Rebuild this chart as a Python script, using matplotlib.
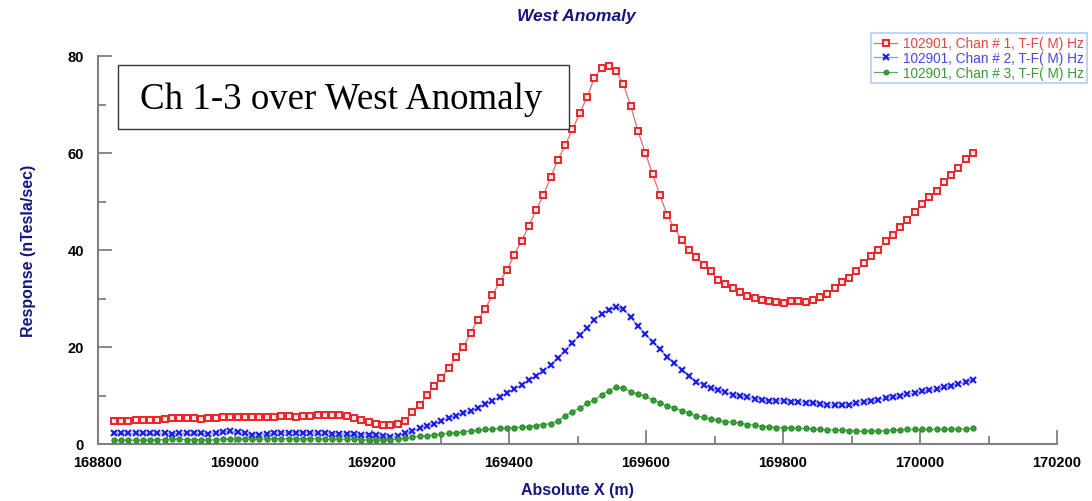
"""
West Anomaly - Ch 1-3 response profiles
"""

import numpy as np
import matplotlib
matplotlib.use("Agg")
import matplotlib.pyplot as plt
from matplotlib.patches import Rectangle
from matplotlib.ticker import MultipleLocator

plt.rcParams["font.family"] = ["Liberation Sans", "DejaVu Sans"]

# station spacing along the line
X0 = 168823.0
DX = 10.63

CH1 = [4.7, 4.7, 4.8, 4.9, 5.0, 5.0, 4.9, 5.1, 5.4, 5.4,
       5.3, 5.3, 5.1, 5.3, 5.4, 5.5, 5.5, 5.5, 5.6, 5.6,
       5.6, 5.6, 5.6, 5.7, 5.7, 5.6, 5.8, 5.8, 5.9, 5.9,
       6.0, 5.9, 5.7, 5.3, 5.0, 4.5, 4.1,
       3.9, 3.9, 4.1, 4.7, 6.6, 8.0, 10.1, 11.9, 13.7, 15.6,
       17.9, 20.0, 22.9, 25.6, 27.8, 30.7, 33.4, 35.9, 39.0, 41.9,
       44.9, 48.2, 51.3, 55.0, 58.6, 61.6, 64.9, 68.2, 71.5, 75.5,
       77.5, 78.0, 76.9, 74.2, 69.7, 64.5, 60.0, 55.7, 51.3, 47.2,
       44.5, 42.1, 40.0, 38.6, 36.9, 35.7, 33.8, 33.0, 32.2, 31.3,
       30.5, 30.1, 29.7, 29.5, 29.3, 29.1, 29.5, 29.5, 29.3, 29.7,
       30.3, 30.9, 32.2, 33.4, 34.2, 35.7, 37.3, 38.8, 40.0, 41.9,
       43.1, 44.7, 46.2, 47.8, 49.5, 50.9, 52.2, 54.0, 55.5, 56.9,
       58.8, 60.0]

CH2 = [2.2, 2.2, 2.2, 2.2, 2.2, 2.2, 2.2, 2.2, 2.1, 2.2,
       2.2, 2.2, 2.2, 2.1, 2.3, 2.5, 2.6, 2.4, 2.2, 1.9,
       1.9, 2.1, 2.2, 2.3, 2.3, 2.3, 2.3, 2.3, 2.2, 2.2,
       2.1, 2.1, 2.0, 2.0, 1.9, 1.9, 1.8,
       1.6, 1.4, 1.6, 2.3, 2.7, 3.2, 3.7, 4.1, 4.7, 5.4,
       5.8, 6.4, 6.8, 7.4, 8.2, 8.9, 9.7, 10.5, 11.3, 12.2,
       13.2, 14.0, 15.1, 16.3, 17.7, 19.2, 20.8, 22.5, 23.9, 25.6,
       26.8, 27.6, 28.2, 27.8, 26.2, 24.3, 22.7, 21.0, 19.6, 17.9,
       16.7, 15.3, 14.0, 12.8, 12.2, 11.5, 11.1, 10.7, 10.1, 9.9,
       9.7, 9.3, 9.1, 8.9, 8.9, 8.9, 8.7, 8.7, 8.5, 8.5,
       8.2, 8.0, 8.0, 8.0, 8.0, 8.5, 8.7, 8.9, 9.1, 9.5,
       9.7, 9.9, 10.3, 10.5, 10.9, 11.1, 11.3, 11.7, 12.0, 12.4,
       12.8, 13.2]

CH3 = [0.8, 0.8, 0.8, 0.8, 0.8, 0.8, 0.9, 0.9, 1.0, 1.0,
       0.9, 0.9, 0.9, 0.8, 0.9, 1.0, 1.0, 1.0, 1.0, 1.0,
       1.0, 1.1, 1.1, 1.1, 1.1, 1.1, 1.1, 1.1, 1.1, 1.0,
       1.0, 1.0, 1.0, 1.0, 0.9, 0.8, 0.8,
       0.8, 0.9, 1.0, 1.2, 1.4, 1.6, 1.7, 1.9, 2.0, 2.2,
       2.3, 2.5, 2.7, 2.8, 3.0, 3.1, 3.2, 3.3, 3.4, 3.5,
       3.6, 3.8, 4.0, 4.2, 4.8, 5.8, 6.7, 7.4, 8.4, 9.1,
       10.1, 11.0, 11.7, 11.5, 10.8, 10.3, 9.8, 9.1, 8.5, 7.9,
       7.4, 6.9, 6.3, 5.8, 5.5, 5.2, 4.9, 4.6, 4.5, 4.3,
       4.0, 3.9, 3.6, 3.6, 3.4, 3.4, 3.3, 3.2, 3.2, 3.1,
       3.0, 2.9, 2.9, 2.9, 2.7, 2.7, 2.6, 2.7, 2.7, 2.7,
       2.9, 2.9, 3.0, 3.0, 3.0, 3.0, 3.0, 3.0, 3.1, 3.1,
       3.1, 3.3]

LABELS = ["102901, Chan # 1, T-F( M) Hz",
          "102901, Chan # 2, T-F( M) Hz",
          "102901, Chan # 3, T-F( M) Hz"]

NAVY = "#16167e"

x = X0 + DX * np.arange(len(CH1))

fig = plt.figure(figsize=(10.92, 5.02), dpi=100)
ax = fig.add_axes([98 / 1092, 1 - 445 / 502, (1057 - 98) / 1092, (445 - 57) / 502])

ax.plot(x, CH1, color="#d87070", lw=0.9, marker="s", ms=4.3, mfc="#fde8e8",
        mec="#e8262a", mew=1.4, label=LABELS[0], zorder=3)
ax.plot(x, CH2, color="#9090f0", lw=0.9, marker="x", ms=4.2, mec="#1f1ff0",
        mew=1.6, label=LABELS[1], zorder=3)
ax.plot(x, CH3, color="#58b058", lw=0.9, marker="o", ms=3.8, mfc="#35a035",
        mec="#248424", mew=0.7, label=LABELS[2], zorder=3)

ax.set_xlim(168800, 170200)
ax.set_ylim(0, 80)
ax.xaxis.set_major_locator(MultipleLocator(200))
ax.xaxis.set_minor_locator(MultipleLocator(100))
ax.yaxis.set_major_locator(MultipleLocator(20))
ax.yaxis.set_minor_locator(MultipleLocator(10))
ax.tick_params(which="both", direction="in", color="#808080", width=1.3,
               labelsize=10.5)
ax.tick_params(which="major", length=10)
ax.tick_params(which="minor", length=6)
ax.tick_params(axis="x", pad=8)
ax.tick_params(axis="y", pad=10)
for lab in ax.get_xticklabels() + ax.get_yticklabels():
    lab.set_fontweight("bold")

for side in ["top", "right"]:
    ax.spines[side].set_visible(False)
for side in ["left", "bottom"]:
    ax.spines[side].set_color("#808080")
    ax.spines[side].set_linewidth(1.5)

ax.set_xlabel("Absolute X (m)", color=NAVY, fontsize=11.5, fontweight="bold",
              labelpad=9)
ax.set_ylabel("Response (nTesla/sec)", color=NAVY, fontsize=11.5,
              fontweight="bold", labelpad=23)
fig.text(576 / 1092, 1 - 16 / 502, "West Anomaly", color=NAVY, fontsize=12.5,
         fontweight="bold", fontstyle="italic", ha="center", va="center")

# annotation box
fig.patches.append(Rectangle((118 / 1092, 1 - 130 / 502), 451 / 1092, 64 / 502,
                             transform=fig.transFigure, facecolor="white",
                             edgecolor="#333333", lw=1.0, zorder=5))
fig.text(341 / 1092, 1 - 100 / 502, "Ch 1-3 over West Anomaly",
         family=["Liberation Serif", "DejaVu Serif"], fontsize=26.6,
         ha="center", va="center", zorder=6)

leg = fig.legend(loc="upper right", bbox_to_anchor=(1087 / 1092, 1 - 34 / 502),
                 fontsize=9.8, frameon=True, fancybox=False, handlelength=1.7,
                 handletextpad=0.4, labelspacing=0.05, borderpad=0.25,
                 borderaxespad=0, markerscale=0.9)
leg.get_frame().set_edgecolor("#9cc2f0")
leg.get_frame().set_linewidth(1.2)
for txt, col in zip(leg.get_texts(), ["#e04848", "#4848e0", "#3a9a3a"]):
    txt.set_color(col)

fig.savefig("out.png", dpi=100)
